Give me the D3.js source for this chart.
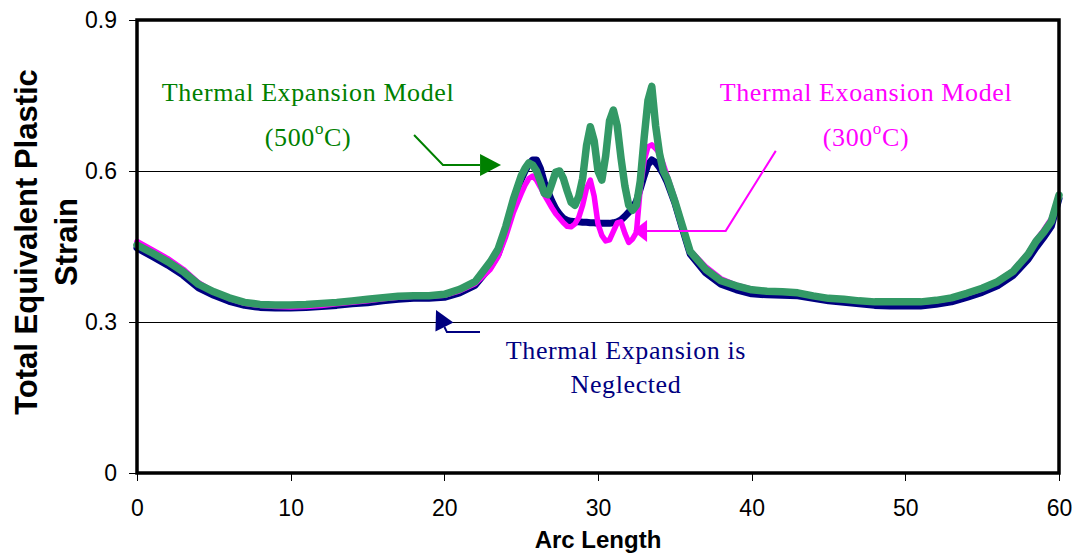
<!DOCTYPE html>
<html>
<head>
<meta charset="utf-8">
<script src="https://cdn.jsdelivr.net/npm/d3@7"></script>
<style>
  html, body { margin: 0; padding: 0; background: #fff; }
  svg { display: block; }
</style>
</head>
<body>
<svg id="chart" width="1082" height="559"></svg>
<script>
// Arc length positions along the contour
const arcLength = [0,1,2,3,4,5,6,7,8,9,10,11,12,13,14,15,16,17,18,19,20,21,22,23,23.5,24,24.5,25,
  25.25,25.5,25.75,26,26.25,26.5,26.75,27,27.25,27.5,27.75,28,28.25,28.5,28.75,29,29.25,29.5,29.75,
  30,30.25,30.5,30.75,31,31.25,31.5,31.75,32,32.25,32.5,32.75,33,33.25,33.5,33.75,34,34.25,34.5,
  35,35.5,36,37,38,39,40,41,42,43,44,45,46,47,48,49,50,51,52,53,54,55,56,57,58,58.5,59,59.5,60];

// Total equivalent plastic strain, thermal expansion neglected
const strainNeglected = [0.447,0.43,0.413,0.393,0.368,0.353,0.341,0.333,0.329,0.328,0.328,0.329,0.331,0.333,0.336,0.338,0.342,0.345,0.347,0.347,0.349,0.358,0.373,0.41,
  0.435,0.48,0.535,0.583,
  0.60,0.614,0.622,0.622,0.605,0.578,0.558,0.54,0.525,0.514,0.506,0.502,0.50,0.499,0.499,0.498,0.498,0.497,0.497,
  0.496,0.496,0.496,0.496,0.497,0.499,0.503,0.51,0.518,0.526,0.54,0.565,0.59,0.613,0.622,0.617,0.607,0.594,0.578,
  0.537,0.485,0.435,0.398,0.375,0.364,0.356,0.354,0.353,0.352,0.347,0.342,0.339,0.336,0.333,0.332,0.332,0.332,0.335,0.34,0.349,0.359,0.372,0.392,0.425,0.448,0.468,0.49,0.545];

// Thermal expansion model, 300 °C
const strain300 = [0.46,0.443,0.426,0.405,0.378,0.36,0.347,0.337,0.333,0.331,0.33,0.331,0.333,0.336,0.339,0.342,0.346,0.349,0.351,0.351,0.353,0.362,0.376,0.405,
  0.43,0.47,0.518,0.555,
  0.572,0.585,0.59,0.582,0.568,0.553,0.54,0.527,0.515,0.506,0.497,0.49,0.489,0.495,0.508,0.532,0.565,0.582,0.55,
  0.495,0.472,0.461,0.463,0.48,0.497,0.499,0.476,0.458,0.465,0.478,0.565,0.62,0.648,0.652,0.645,0.635,0.613,0.59,
  0.545,0.49,0.442,0.41,0.386,0.373,0.365,0.361,0.36,0.358,0.352,0.347,0.345,0.342,0.34,0.339,0.339,0.339,0.342,0.347,0.356,0.366,0.38,0.402,0.437,0.462,0.482,0.505,0.55];

// Thermal expansion model, 500 °C
const strain500 = [0.453,0.437,0.42,0.40,0.375,0.36,0.348,0.339,0.335,0.334,0.334,0.335,0.337,0.339,0.342,0.345,0.348,0.351,0.352,0.352,0.355,0.365,0.38,0.42,
  0.445,0.49,0.545,0.59,
  0.605,0.616,0.612,0.60,0.58,0.556,0.553,0.575,0.598,0.60,0.585,0.56,0.538,0.532,0.55,0.585,0.65,0.688,0.66,
  0.60,0.582,0.63,0.70,0.721,0.69,0.625,0.57,0.532,0.522,0.532,0.58,0.665,0.74,0.768,0.69,0.635,0.60,0.585,
  0.54,0.49,0.44,0.405,0.382,0.372,0.364,0.361,0.36,0.358,0.352,0.347,0.345,0.342,0.34,0.34,0.34,0.34,0.343,0.348,0.357,0.367,0.38,0.40,0.435,0.46,0.478,0.50,0.552];

const xTicks = [0, 10, 20, 30, 40, 50, 60];
const yTicks = [0, 0.3, 0.6, 0.9];
const yTickLabels = ["0", "0.3", "0.6", "0.9"];

const svg = d3.select("#chart");
const margin = { left: 137, top: 20, right: 23, bottom: 86 };
const W = 1082 - margin.left - margin.right;
const H = 559 - margin.top - margin.bottom;

const x = d3.scaleLinear().domain([0, 60]).range([0, W]);
const y = d3.scaleLinear().domain([0, 0.9]).range([H, 0]);

const g = svg.append("g").attr("transform", `translate(${margin.left},${margin.top})`);

// Horizontal gridlines (half-pixel offset keeps them crisp)
g.selectAll("line.grid").data([0.3, 0.6]).enter().append("line")
  .attr("class", "grid")
  .attr("x1", 0).attr("x2", W)
  .attr("y1", d => Math.round(y(d)) + 0.5).attr("y2", d => Math.round(y(d)) + 0.5)
  .attr("stroke", "#000").attr("stroke-width", 1)
  .attr("shape-rendering", "crispEdges");

// Axes
const yAxis = d3.axisLeft(y).tickValues(yTicks).tickFormat((d, i) => yTickLabels[i]).tickSize(8).tickPadding(12);
const xAxis = d3.axisBottom(x).tickValues(xTicks).tickFormat(d3.format("d")).tickSize(8).tickPadding(19);

const ya = g.append("g").call(yAxis);
const xa = g.append("g").attr("transform", `translate(0,${H})`).call(xAxis);
[ya, xa].forEach(a => {
  a.select(".domain").remove();
  a.selectAll(".tick line").attr("stroke", "#000").attr("stroke-width", 1).attr("shape-rendering", "crispEdges");
  a.selectAll(".tick text").attr("fill", "#000")
    .style("font-family", "'Liberation Sans', Arial, sans-serif").style("font-size", "23px");
});

// Series
const series = [
  { values: strainNeglected, color: "#000080", width: 7 },
  { values: strain300, color: "#FF00FF", width: 5.5 },
  { values: strain500, color: "#339966", width: 7.5 }
];
const line = d3.line().x(d => x(d[0])).y(d => y(d[1])).curve(d3.curveLinear);
series.forEach(s => {
  g.append("path")
    .datum(arcLength.map((a, i) => [a, s.values[i]]))
    .attr("d", line)
    .attr("fill", "none")
    .attr("stroke", s.color)
    .attr("stroke-width", s.width)
    .attr("stroke-linejoin", "round")
    .attr("stroke-linecap", "round");
});

// Plot frame
g.append("rect").attr("x", 0).attr("y", 0).attr("width", W).attr("height", H)
  .attr("fill", "none").attr("stroke", "#000").attr("stroke-width", 3.5);

// Callout arrows
function arrow(pts, color, headLen, headHalf) {
  const p = pts.map(d => [x(d[0]), y(d[1])]);
  const tip = p[p.length - 1], prev = p[p.length - 2];
  const dx = tip[0] - prev[0], dy = tip[1] - prev[1];
  const len = Math.hypot(dx, dy), ux = dx / len, uy = dy / len;
  const base = [tip[0] - ux * headLen, tip[1] - uy * headLen];
  const linePts = p.slice(0, -1).concat([base]);
  g.append("path").attr("d", d3.line()(linePts))
    .attr("fill", "none").attr("stroke", color).attr("stroke-width", 2);
  const head = [tip, [base[0] - uy * headHalf, base[1] + ux * headHalf], [base[0] + uy * headHalf, base[1] - ux * headHalf]];
  g.append("path").attr("d", d3.line()(head) + "Z").attr("fill", color);
}
arrow([[18.03, 0.6715], [19.91, 0.612], [23.69, 0.612]], "#008000", 21, 11);
arrow([[41.57, 0.640], [38.31, 0.481], [32.28, 0.481]], "#FF00FF", 14, 11);
arrow([[22.32, 0.280], [20.17, 0.280], [19.46, 0.324]], "#000080", 19, 10);

// Callout labels
const labelFont = "'Liberation Serif', 'Times New Roman', serif";
function label(cx, cy, color, parts) {
  const t = g.append("text")
    .attr("x", x(cx)).attr("y", y(cy))
    .attr("text-anchor", "middle")
    .attr("fill", color)
    .style("font-family", labelFont).style("font-size", "26px").style("letter-spacing", "0.6px");
  parts.forEach(p => {
    const ts = t.append("tspan").text(p.text);
    if (p.sup) ts.attr("dy", -12).style("font-size", "17px");
    if (p.after) ts.attr("dy", 12);
  });
}
label(11.13, 0.739, "#008000", [{ text: "Thermal Expansion Model" }]);
label(11.13, 0.650, "#008000", [{ text: "(500" }, { text: "o", sup: true }, { text: "C)", after: true }]);
label(47.44, 0.739, "#FF00FF", [{ text: "Thermal Exoansion Model" }]);
label(47.44, 0.650, "#FF00FF", [{ text: "(300" }, { text: "o", sup: true }, { text: "C)", after: true }]);
label(31.82, 0.2265, "#000080", [{ text: "Thermal Expansion is" }]);
label(31.82, 0.159, "#000080", [{ text: "Neglected" }]);

// Axis titles
const titleFont = "'Liberation Sans', Arial, sans-serif";
svg.append("text")
  .attr("x", 598).attr("y", 548)
  .attr("text-anchor", "middle")
  .style("font-family", titleFont).style("font-size", "24px").style("font-weight", "bold")
  .text("Arc Length");

const yt = svg.append("g").attr("transform", "translate(0,242) rotate(-90)");
yt.append("text").attr("x", 0).attr("y", 37).attr("text-anchor", "middle")
  .style("font-family", titleFont).style("font-size", "31px").style("font-weight", "bold")
  .text("Total Equivalent Plastic");
yt.append("text").attr("x", 0).attr("y", 77).attr("text-anchor", "middle")
  .style("font-family", titleFont).style("font-size", "31px").style("font-weight", "bold")
  .text("Strain");
</script>
</body>
</html>
